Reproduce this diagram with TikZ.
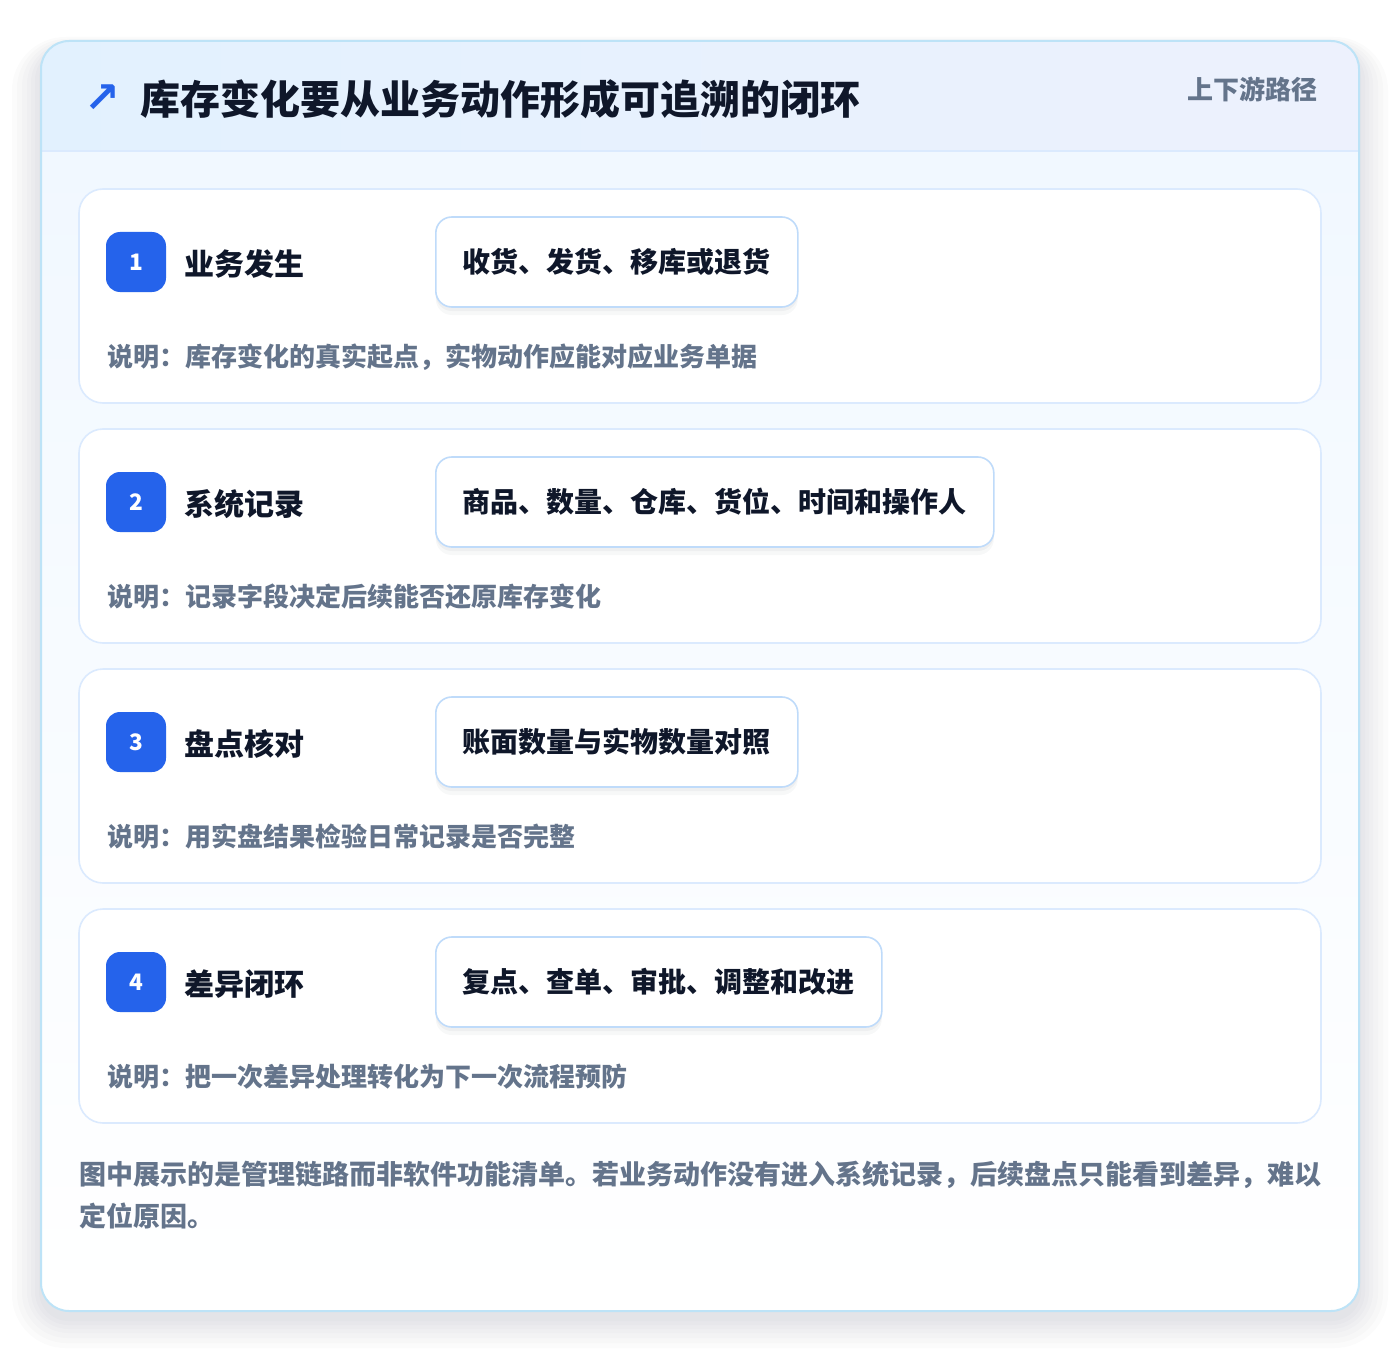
\documentclass[tikz,border=0pt]{standalone}
\usepackage{fontspec}
\setmainfont{Noto Sans CJK SC}
\newfontfamily\symbolfont{DejaVu Sans}

\definecolor{pageedge}{RGB}{189,227,247}
\definecolor{headleft}{RGB}{226,241,254}
\definecolor{headright}{RGB}{237,241,253}
\definecolor{headrule}{RGB}{219,234,254}
\definecolor{bodytop}{RGB}{241,248,255}
\definecolor{cardline}{RGB}{219,234,254}
\definecolor{boxline}{RGB}{191,219,250}
\definecolor{badgeblue}{RGB}{37,99,235}
\definecolor{titleink}{RGB}{15,23,42}
\definecolor{noteink}{RGB}{100,116,139}
\definecolor{shadowink}{RGB}{30,41,59}

\tikzset{
  stepcard/.style={draw=cardline, fill=white, line width=1.2pt, rounded corners=18pt},
  badge/.style={fill=badgeblue, rounded corners=10.5pt, minimum size=45pt, inner sep=0pt,
    text=white, font=\bfseries\fontsize{17}{17}\selectfont},
  steptitle/.style={anchor=west, inner sep=0pt, text=titleink, font=\bfseries\fontsize{22.5}{22.5}\selectfont},
  actionbox/.style={anchor=west, draw=boxline, fill=white, line width=1.2pt, rounded corners=12pt,
    minimum height=67.5pt, inner xsep=20.25pt, inner ysep=0pt, text=titleink,
    font=\bfseries\fontsize{21}{21}\selectfont,
    preaction={fill=shadowink, fill opacity=0.03, transform canvas={yshift=-6pt}},
    preaction={fill=shadowink, fill opacity=0.04, transform canvas={yshift=-3pt}}},
  note/.style={anchor=west, inner sep=0pt, text=noteink, font=\bfseries\fontsize{19.5}{19.5}\selectfont},
  haze/.style={fill=shadowink, fill opacity=0.014}
}

\begin{document}
\begin{tikzpicture}[x=0.75pt, y=-0.75pt]
    \useasboundingbox (0,0) rectangle (1400,1352);
    \fill[white] (0,0) rectangle (1400,1352);

    % soft shadow under the outer card
    \fill[haze, rounded corners=22pt] (39,49) rectangle (1361,1321);
    \fill[haze, rounded corners=25pt] (35,47) rectangle (1365,1325);
    \fill[haze, rounded corners=28pt] (31,45) rectangle (1369,1329);
    \fill[haze, rounded corners=31pt] (27,43) rectangle (1373,1333);
    \fill[haze, rounded corners=34pt] (22,41) rectangle (1378,1338);
    \fill[haze, rounded corners=37pt] (17,39) rectangle (1383,1343);
    \fill[haze, rounded corners=40pt] (12,37) rectangle (1388,1348);

    % outer card
    \begin{scope}
      \clip[rounded corners=21pt] (41,41) rectangle (1359,1311);
      \fill[top color=bodytop, bottom color=white] (41,151) rectangle (1359,1311);
      \fill[left color=headleft, right color=headright] (41,41) rectangle (1359,151);
      \draw[headrule, line width=1.2pt] (41,151) -- (1359,151);
    \end{scope}
    \draw[pageedge, line width=1.5pt, rounded corners=21pt] (41,41) rectangle (1359,1311);

    % header
    \node[text=badgeblue, inner sep=0pt, font=\symbolfont\bfseries\fontsize{32}{32}\selectfont] (arrow) at (102,99) {↗};
    \node[anchor=west, inner sep=0pt, text=titleink, font=\bfseries\fontsize{30}{30}\selectfont] (title) at (140,99) {库存变化要从业务动作形成可追溯的闭环};
    \node[anchor=east, inner sep=0pt, text=noteink, font=\bfseries\fontsize{19.5}{19.5}\selectfont] (tag) at (1318,89) {上下游路径};

    % step 1
    \filldraw[stepcard] (79,189) rectangle (1321,403);
    \node[badge] (badge1) at (136,262) {1};
    \node[steptitle] (title1) at (184,264) {业务发生};
    \node[actionbox] (box1) at (435,262) {收货、发货、移库或退货};
    \node[note] (note1) at (107,357) {说明：库存变化的真实起点，实物动作应能对应业务单据};

    % step 2
    \filldraw[stepcard] (79,429) rectangle (1321,643);
    \node[badge] (badge2) at (136,502) {2};
    \node[steptitle] (title2) at (184,504) {系统记录};
    \node[actionbox] (box2) at (435,502) {商品、数量、仓库、货位、时间和操作人};
    \node[note] (note2) at (107,597) {说明：记录字段决定后续能否还原库存变化};

    % step 3
    \filldraw[stepcard] (79,669) rectangle (1321,883);
    \node[badge] (badge3) at (136,742) {3};
    \node[steptitle] (title3) at (184,744) {盘点核对};
    \node[actionbox] (box3) at (435,742) {账面数量与实物数量对照};
    \node[note] (note3) at (107,837) {说明：用实盘结果检验日常记录是否完整};

    % step 4
    \filldraw[stepcard] (79,909) rectangle (1321,1123);
    \node[badge] (badge4) at (136,982) {4};
    \node[steptitle] (title4) at (184,984) {差异闭环};
    \node[actionbox] (box4) at (435,982) {复点、查单、审批、调整和改进};
    \node[note] (note4) at (107,1077) {说明：把一次差异处理转化为下一次流程预防};

    % footer
    \node[anchor=north west, inner sep=0pt, align=left, text=noteink,
      font=\bfseries\fontsize{20.25}{31.5}\selectfont] (footer) at (79,1161)
      {图中展示的是管理链路而非软件功能清单。若业务动作没有进入系统记录，后续盘点只能看到差异，难以\\定位原因。};
\end{tikzpicture}
\end{document}
